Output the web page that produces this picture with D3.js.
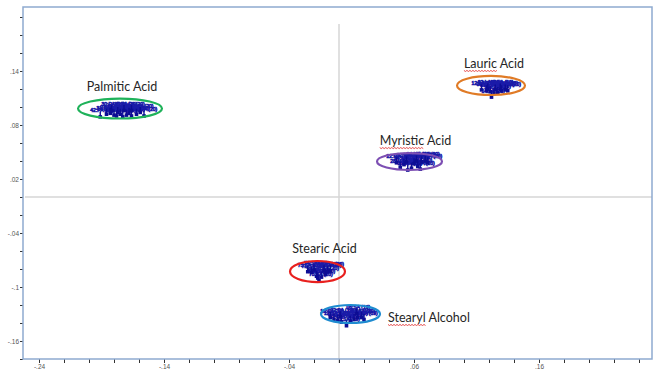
<!DOCTYPE html>
<html>
<head>
<meta charset="utf-8">
<script src="https://cdn.jsdelivr.net/npm/d3@7"></script>
<style>
  html, body { margin: 0; padding: 0; background: #fff; }
  svg { display: block; }
</style>
</head>
<body>
<svg id="chart" width="656" height="369"></svg>
<script>
// ---------------- data ----------------
const xTickLabels = [-0.24, -0.14, -0.04, 0.06, 0.16];
const yTickLabels = [0.14, 0.08, 0.02, -0.04, -0.1, -0.16];

const groupNames   = ["Palmitic Acid", "Lauric Acid", "Myristic Acid", "Stearic Acid", "Stearyl Alcohol"];
const groupCodes   = ["PA", "LA", "MA", "SA", "SA"];
const groupCounts  = [20, 20, 20, 20, 19];
const groupCenterX = [-0.1752, 0.1216, 0.0564, -0.0172, 0.0092];
const groupCenterY = [0.0983, 0.1239, 0.0394, -0.0828, -0.1300];
const groupRadiusX = [0.0336, 0.0272, 0.0260, 0.0220, 0.0236];
const groupRadiusY = [0.0111, 0.0106, 0.0094, 0.0117, 0.0100];

const palmitic = [
  [-0.191, 0.089], [-0.186, 0.092], [-0.183, 0.093], [-0.180, 0.091], [-0.178, 0.090],
  [-0.175, 0.092], [-0.173, 0.089], [-0.170, 0.091], [-0.168, 0.093], [-0.166, 0.090],
  [-0.162, 0.092], [-0.159, 0.094], [-0.156, 0.090], [-0.182, 0.096], [-0.172, 0.096],
  [-0.166, 0.096], [-0.177, 0.094]
];
const lauric = [
  [0.114, 0.119], [0.118, 0.118], [0.121, 0.117], [0.122, 0.111], [0.125, 0.119],
  [0.127, 0.116], [0.130, 0.118], [0.133, 0.119], [0.135, 0.118], [0.119, 0.120],
  [0.129, 0.120], [0.124, 0.115]
];
const myristic = [
  [0.046, 0.038], [0.049, 0.033], [0.052, 0.036], [0.055, 0.030], [0.058, 0.032],
  [0.060, 0.037], [0.063, 0.034], [0.066, 0.039], [0.069, 0.040], [0.071, 0.038],
  [0.054, 0.039], [0.062, 0.040], [0.065, 0.031]
];
const stearic = [
  [-0.025, -0.083], [-0.022, -0.084], [-0.018, -0.088], [-0.016, -0.093], [-0.014, -0.089],
  [-0.011, -0.086], [-0.009, -0.083], [-0.007, -0.082], [-0.020, -0.081], [-0.012, -0.082],
  [-0.017, -0.090]
];
const stearylAlcohol = [
  [-0.007, -0.134], [-0.004, -0.136], [-0.001, -0.137], [0.002, -0.139], [0.006, -0.143],
  [0.009, -0.138], [0.012, -0.136], [0.015, -0.134], [0.018, -0.134], [0.020, -0.136],
  [0.001, -0.133], [0.014, -0.130]
];
const groupSamples = [palmitic, lauric, myristic, stearic, stearylAlcohol];
const groupIds = [
  [42, 31, 27, 38, 45, 29, 33, 40, 36, 25, 44, 48, 39, 30, 35, 41, 26],
  [12, 5, 9, 14, 3, 17, 8, 11, 19, 2, 6, 15],
  [22, 28, 24, 21, 26, 30, 23, 27, 25, 29, 32, 34, 20],
  [75, 71, 78, 73, 70, 76, 79, 72, 74, 77, 80],
  [16, 12, 9, 14, 11, 7, 13, 8, 3, 10, 2, 6]
];

// ---------------- style / layout ----------------
const groupColors = ["#1fb25a", "#e07b26", "#7d4fb3", "#e8201e", "#1e8bd0"];
const labelSide   = ["top", "top", "top", "top", "right"];
const labelNudge  = [2, 3, 6, 7, 0];
const wavyWord    = [false, true, true, false, true];

const plot = { left: 23, right: 652, top: 7, bottom: 359 };

const svg = d3.select("#chart");

const x = d3.scaleLinear().domain([-0.2528, 0.2504]).range([plot.left, plot.right]);
const y = d3.scaleLinear().domain([0.2111, -0.18]).range([plot.top, plot.bottom]);

const fmt = d => String(+d.toFixed(2)).replace("0.", ".");

// zero lines
svg.append("line")
  .attr("x1", x(0)).attr("x2", x(0))
  .attr("y1", 24).attr("y2", plot.bottom + 4)
  .attr("stroke", "#d6d6d6").attr("stroke-width", 1.5);
svg.append("line")
  .attr("x1", plot.left + 2).attr("x2", plot.right)
  .attr("y1", y(0)).attr("y2", y(0))
  .attr("stroke", "#d6d6d6").attr("stroke-width", 1.5);

// axes
const xMinor = d3.range(-12, 13).map(i => +(i * 0.02).toFixed(2));
const yMinor = d3.range(-9, 11).map(i => +(i * 0.02).toFixed(2));
const isXMajor = v => xTickLabels.some(t => Math.abs(t - v) < 1e-9);
const isYMajor = v => yTickLabels.some(t => Math.abs(t - v) < 1e-9);

const xAxis = d3.axisBottom(x).tickValues(xMinor).tickSize(4).tickPadding(1)
  .tickFormat(d => isXMajor(d) ? fmt(d) : "");
const yAxis = d3.axisLeft(y).tickValues(yMinor).tickSize(3).tickPadding(1)
  .tickFormat(d => isYMajor(d) ? fmt(d) : "");

const gx = svg.append("g").attr("transform", `translate(0,${plot.bottom})`).call(xAxis);
const gy = svg.append("g").attr("transform", `translate(${plot.left},0)`).call(yAxis);
[gx, gy].forEach(g => {
  g.select(".domain").remove();
  g.selectAll(".tick line").attr("stroke", "#333").attr("stroke-width", 1);
  g.selectAll(".tick text").attr("fill", "#555").attr("font-size", 6.5)
    .attr("font-family", "Liberation Sans, Arial, sans-serif");
});

// frame
svg.append("rect")
  .attr("x", plot.left).attr("y", plot.top)
  .attr("width", plot.right - plot.left).attr("height", plot.bottom - plot.top)
  .attr("fill", "none").attr("stroke", "#8eaad0").attr("stroke-width", 1.5);

// samples
const markColor = "#0d0d94";
groupSamples.forEach((samples, gi) => {
  const g = svg.append("g");
  const lab = g.append("g");
  samples.forEach((s, i) => {
    const px = x(s[0]), py = y(s[1]);
    const ly = py - 4.5;
    g.append("line").attr("x1", px).attr("x2", px).attr("y1", ly - 1).attr("y2", py)
      .attr("stroke", markColor).attr("stroke-width", 1.4);
    g.append("rect").attr("x", px - 1.8).attr("y", py - 1.8).attr("width", 3.6).attr("height", 3.6)
      .attr("fill", markColor);
    const id = String(groupIds[gi][i]).padStart(2, "0");
    lab.append("text").attr("x", px - 10).attr("y", ly)
      .attr("font-size", 5).attr("font-family", "Liberation Sans, Arial, sans-serif")
      .attr("fill", "#1a1aa8").attr("stroke", "#1a1aa8").attr("stroke-width", 0.7)
      .text(`${id}:${groupCodes[gi]} (${groupCounts[gi]})`);
  });
});

// ellipses + names
groupNames.forEach((name, gi) => {
  const cx = x(groupCenterX[gi]), cy = y(groupCenterY[gi]);
  const rx = x(groupCenterX[gi] + groupRadiusX[gi]) - cx;
  const ry = cy - y(groupCenterY[gi] + groupRadiusY[gi]);
  svg.append("ellipse").attr("cx", cx).attr("cy", cy).attr("rx", rx).attr("ry", ry)
    .attr("fill", "none").attr("stroke", groupColors[gi]).attr("stroke-width", 2.2);

  const t = svg.append("text")
    .attr("font-family", "Lato, 'Open Sans', sans-serif").attr("font-size", 12.5)
    .attr("fill", "#262626").text(name);
  if (labelSide[gi] === "top") {
    t.attr("x", cx + labelNudge[gi]).attr("y", cy - ry - 8).attr("text-anchor", "middle");
  } else {
    t.attr("x", cx + rx + 8).attr("y", cy + 8).attr("text-anchor", "start");
  }
  if (wavyWord[gi]) {
    const node = t.node();
    const firstLen = name.indexOf(" ");
    const start = node.getStartPositionOfChar(0).x;
    const end = node.getEndPositionOfChar(firstLen - 1).x;
    const by = +t.attr("y") + 2.5;
    let d = `M${start},${by}`;
    let k = 0;
    for (let xx = start + 1.5; xx <= end; xx += 1.5, k++) {
      d += ` L${xx},${by + (k % 2 === 0 ? 1 : 0)}`;
    }
    svg.append("path").attr("d", d).attr("fill", "none")
      .attr("stroke", "#e02020").attr("stroke-width", 0.8);
  }
});
</script>
</body>
</html>
